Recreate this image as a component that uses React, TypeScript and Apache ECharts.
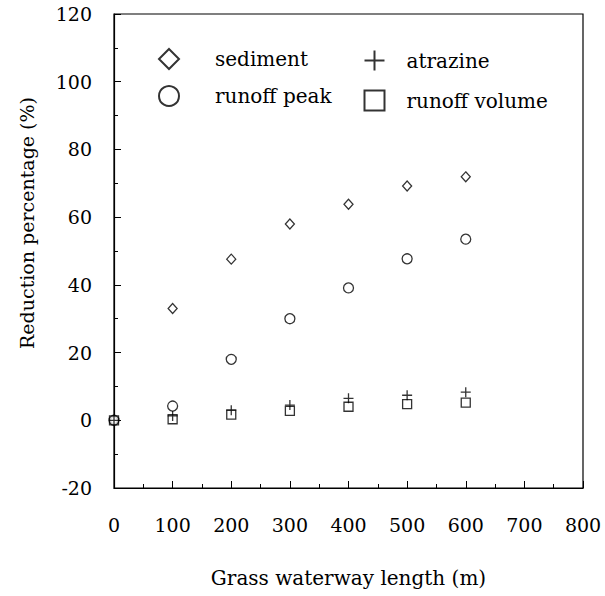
import React, { useEffect, useRef } from "react";
import * as echarts from "echarts";

const lengths = [0, 100, 200, 300, 400, 500, 600];
const sediment = [0, 33, 47.6, 58, 63.8, 69.2, 71.9];
const runoffPeak = [0, 4.2, 18, 30, 39.1, 47.7, 53.5];
const atrazine = [0, 1.3, 3, 4.5, 6.5, 7.4, 8.3];
const runoffVolume = [0, 0.3, 1.7, 2.8, 4, 4.8, 5.2];

const xTitle = "Grass waterway length (m)";
const yTitle = "Reduction percentage (%)";

const FONT = "DejaVu Serif";
const PLUS = "path://M0,10L20,10M10,0L10,20";

export default function App() {
  const ref = useRef<HTMLDivElement>(null);
  useEffect(() => {
    const chart = echarts.init(ref.current!, null, { renderer: "svg" });
    const pair = (ys: number[]) => lengths.map((x, i) => [x, ys[i]]);
    const markStyle = { color: "#fff", borderColor: "#000", borderWidth: 1.3 };
    const axisCommon = {
      axisLine: { show: true, onZero: false, lineStyle: { color: "#000", width: 1.2 } },
      axisTick: { show: true, inside: true, length: 7, lineStyle: { color: "#000" } },
      minorTick: { show: true, splitNumber: 2, length: 4, lineStyle: { color: "#000" } },
      splitLine: { show: false },
    };
    const legendCommon = {
      orient: "vertical",
      itemWidth: 20,
      itemHeight: 20,
      itemGap: 15,
      selectedMode: false,
    };
    const legendText = (pad: number) => ({
      color: "#000", fontFamily: FONT, fontSize: 20, padding: [0, 0, 0, pad],
    });
    chart.setOption({
      animation: false,
      backgroundColor: "#fff",
      textStyle: { fontFamily: FONT },
      grid: {
        left: 114, top: 14, right: 22, bottom: 108,
        show: true, borderColor: "#000", borderWidth: 1.2,
      },
      xAxis: {
        type: "value", min: 0, max: 800, interval: 100,
        ...axisCommon,
        axisLabel: { color: "#000", fontFamily: FONT, fontSize: 19, margin: 27 },
        name: xTitle, nameLocation: "middle", nameGap: 80,
        nameTextStyle: { color: "#000", fontFamily: FONT, fontSize: 20 },
      },
      yAxis: {
        type: "value", min: -20, max: 120, interval: 20,
        ...axisCommon,
        axisLabel: { color: "#000", fontFamily: FONT, fontSize: 19, margin: 22 },
      },
      graphic: [
        {
          type: "text", x: 27, y: 223, rotation: Math.PI / 2,
          style: {
            text: yTitle, fill: "#000", fontFamily: FONT, fontSize: 19,
            align: "center", verticalAlign: "middle",
          },
        },
      ],
      legend: [
        { ...legendCommon, left: 153, top: 43, textStyle: legendText(31), data: [{ name: "sediment", icon: "diamond" }, { name: "runoff peak", icon: "circle" }] },
        { ...legendCommon, left: 357, top: 43, textStyle: legendText(17), data: [{ name: "atrazine", icon: PLUS }, { name: "runoff volume", icon: "rect" }] },
      ],
      series: [
        { name: "sediment", type: "scatter", symbol: "diamond", symbolSize: [9, 10], data: pair(sediment), itemStyle: markStyle },
        { name: "runoff peak", type: "scatter", symbol: "circle", symbolSize: 10, data: pair(runoffPeak), itemStyle: markStyle },
        { name: "atrazine", type: "scatter", symbol: PLUS, symbolSize: 10, data: pair(atrazine), itemStyle: { ...markStyle, color: "none" } },
        { name: "runoff volume", type: "scatter", symbol: "rect", symbolSize: 9, data: pair(runoffVolume), itemStyle: { ...markStyle, color: "none" } },
      ],
    });
    return () => chart.dispose();
  }, []);
  return <div ref={ref} style={{ position: "fixed", left: 0, top: 0, width: 605, height: 596 }} />;
}
